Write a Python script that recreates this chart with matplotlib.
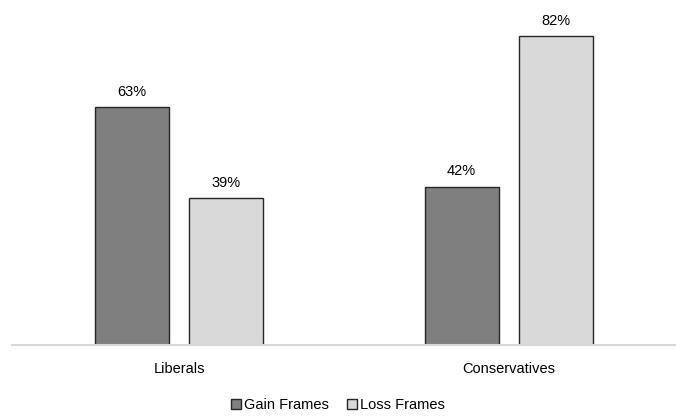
import matplotlib
matplotlib.use("Agg")
import matplotlib.pyplot as plt
import numpy as np

plt.rcParams['font.family'] = ['Liberation Sans Narrow', 'Liberation Sans', 'DejaVu Sans']

groups = ["Liberals", "Conservatives"]
gain = [63, 42]
loss = [39, 82]
series_names = ["Gain Frames", "Loss Frames"]

fig = plt.figure(figsize=(6.76, 4.16), dpi=100)
ax = fig.add_axes([12 / 676, 71 / 416, 664 / 676, 345 / 416])

x = np.arange(len(groups))
w = 0.225
off = 0.1426
b1 = ax.bar(x - off, gain, w, color="#7f7f7f", edgecolor="#262626", linewidth=1, label=series_names[0])
b2 = ax.bar(x + off, loss, w, color="#d9d9d9", edgecolor="#262626", linewidth=1, label=series_names[1])

# value labels above each bar
for bars in (b1, b2):
    for r in bars:
        h = r.get_height()
        ax.text(r.get_x() + r.get_width() / 2, h + 2.2, f"{h:.0f}%",
                ha="center", va="bottom", fontsize=10.5)

ax.set_xlim(-0.507, 1.508)
ax.set_ylim(0, 91.5)
ax.set_yticks([])
ax.set_xticks(x)
ax.set_xticklabels(groups, fontsize=10.5)
ax.tick_params(axis="x", length=0, pad=12)
for s in ("top", "left", "right"):
    ax.spines[s].set_visible(False)
ax.spines["bottom"].set_color("#d9d9d9")
ax.spines["bottom"].set_linewidth(1.5)

fig.legend(loc="center", bbox_to_anchor=(0.5, 1 - 405 / 416), ncol=2, frameon=False,
           fontsize=10.5, handlelength=0.7, handleheight=0.7, handletextpad=0.2,
           columnspacing=1.2)

fig.savefig("out.png", dpi=100)
